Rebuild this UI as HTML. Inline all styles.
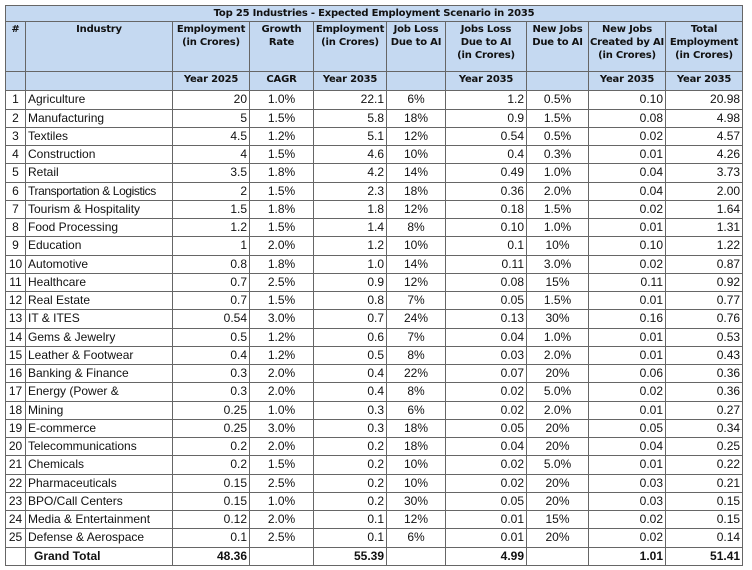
<!DOCTYPE html>
<html><head><meta charset="utf-8"><style>
body{margin:0;background:#fff;width:752px;height:570px;overflow:hidden}
table{position:absolute;left:5px;top:5px;width:737px;border-collapse:collapse;table-layout:fixed;font-family:"Liberation Sans",sans-serif;font-size:12px;color:#111}
td{border:1px solid #666;padding:0 2px;height:17.25px;line-height:17px;white-space:nowrap;overflow:hidden}
.h td{background:#c5d9f1;font-family:"DejaVu Sans",sans-serif;font-weight:bold;font-size:10px;text-align:center;vertical-align:top;line-height:13px;padding-top:1px;padding-left:0;padding-right:0;letter-spacing:-0.2px}
.r{text-align:right}.c{text-align:center}
.t td{font-weight:bold}
.n{letter-spacing:-0.4px}
</style></head><body>
<table>
<colgroup><col style="width:20px"><col style="width:147px"><col style="width:77px"><col style="width:64px"><col style="width:73px"><col style="width:59px"><col style="width:81px"><col style="width:62px"><col style="width:77px"><col style="width:77px"></colgroup>
<tr class="h"><td colspan="10" style="height:14px">Top 25 Industries - Expected Employment Scenario in 2035</td></tr>
<tr class="h"><td style="height:48px">#</td><td>Industry</td><td>Employment<br>(in Crores)</td><td>Growth<br>Rate</td><td>Employment<br>(in Crores)</td><td>Job Loss<br>Due to AI</td><td>Jobs Loss<br>Due to AI<br>(in Crores)</td><td>New Jobs<br>Due to AI</td><td>New Jobs<br>Created by AI<br>(in Crores)</td><td>Total<br>Employment<br>(in Crores)</td></tr>
<tr class="h"><td style="height:13px"></td><td></td><td>Year 2025</td><td>CAGR</td><td>Year 2035</td><td></td><td>Year 2035</td><td></td><td>Year 2035</td><td>Year 2035</td></tr>
<tr><td class="c">1</td><td>Agriculture</td><td class="r">20</td><td class="c">1.0%</td><td class="r">22.1</td><td class="c">6%</td><td class="r">1.2</td><td class="c">0.5%</td><td class="r">0.10</td><td class="r">20.98</td></tr>
<tr><td class="c">2</td><td>Manufacturing</td><td class="r">5</td><td class="c">1.5%</td><td class="r">5.8</td><td class="c">18%</td><td class="r">0.9</td><td class="c">1.5%</td><td class="r">0.08</td><td class="r">4.98</td></tr>
<tr><td class="c">3</td><td>Textiles</td><td class="r">4.5</td><td class="c">1.2%</td><td class="r">5.1</td><td class="c">12%</td><td class="r">0.54</td><td class="c">0.5%</td><td class="r">0.02</td><td class="r">4.57</td></tr>
<tr><td class="c">4</td><td>Construction</td><td class="r">4</td><td class="c">1.5%</td><td class="r">4.6</td><td class="c">10%</td><td class="r">0.4</td><td class="c">0.3%</td><td class="r">0.01</td><td class="r">4.26</td></tr>
<tr><td class="c">5</td><td>Retail</td><td class="r">3.5</td><td class="c">1.8%</td><td class="r">4.2</td><td class="c">14%</td><td class="r">0.49</td><td class="c">1.0%</td><td class="r">0.04</td><td class="r">3.73</td></tr>
<tr><td class="c">6</td><td class="n">Transportation &amp; Logistics</td><td class="r">2</td><td class="c">1.5%</td><td class="r">2.3</td><td class="c">18%</td><td class="r">0.36</td><td class="c">2.0%</td><td class="r">0.04</td><td class="r">2.00</td></tr>
<tr><td class="c">7</td><td>Tourism &amp; Hospitality</td><td class="r">1.5</td><td class="c">1.8%</td><td class="r">1.8</td><td class="c">12%</td><td class="r">0.18</td><td class="c">1.5%</td><td class="r">0.02</td><td class="r">1.64</td></tr>
<tr><td class="c">8</td><td>Food Processing</td><td class="r">1.2</td><td class="c">1.5%</td><td class="r">1.4</td><td class="c">8%</td><td class="r">0.10</td><td class="c">1.0%</td><td class="r">0.01</td><td class="r">1.31</td></tr>
<tr><td class="c">9</td><td>Education</td><td class="r">1</td><td class="c">2.0%</td><td class="r">1.2</td><td class="c">10%</td><td class="r">0.1</td><td class="c">10%</td><td class="r">0.10</td><td class="r">1.22</td></tr>
<tr><td class="c">10</td><td>Automotive</td><td class="r">0.8</td><td class="c">1.8%</td><td class="r">1.0</td><td class="c">14%</td><td class="r">0.11</td><td class="c">3.0%</td><td class="r">0.02</td><td class="r">0.87</td></tr>
<tr><td class="c">11</td><td>Healthcare</td><td class="r">0.7</td><td class="c">2.5%</td><td class="r">0.9</td><td class="c">12%</td><td class="r">0.08</td><td class="c">15%</td><td class="r">0.11</td><td class="r">0.92</td></tr>
<tr><td class="c">12</td><td>Real Estate</td><td class="r">0.7</td><td class="c">1.5%</td><td class="r">0.8</td><td class="c">7%</td><td class="r">0.05</td><td class="c">1.5%</td><td class="r">0.01</td><td class="r">0.77</td></tr>
<tr><td class="c">13</td><td>IT &amp; ITES</td><td class="r">0.54</td><td class="c">3.0%</td><td class="r">0.7</td><td class="c">24%</td><td class="r">0.13</td><td class="c">30%</td><td class="r">0.16</td><td class="r">0.76</td></tr>
<tr><td class="c">14</td><td>Gems &amp; Jewelry</td><td class="r">0.5</td><td class="c">1.2%</td><td class="r">0.6</td><td class="c">7%</td><td class="r">0.04</td><td class="c">1.0%</td><td class="r">0.01</td><td class="r">0.53</td></tr>
<tr><td class="c">15</td><td>Leather &amp; Footwear</td><td class="r">0.4</td><td class="c">1.2%</td><td class="r">0.5</td><td class="c">8%</td><td class="r">0.03</td><td class="c">2.0%</td><td class="r">0.01</td><td class="r">0.43</td></tr>
<tr><td class="c">16</td><td>Banking &amp; Finance</td><td class="r">0.3</td><td class="c">2.0%</td><td class="r">0.4</td><td class="c">22%</td><td class="r">0.07</td><td class="c">20%</td><td class="r">0.06</td><td class="r">0.36</td></tr>
<tr><td class="c">17</td><td>Energy (Power &amp;</td><td class="r">0.3</td><td class="c">2.0%</td><td class="r">0.4</td><td class="c">8%</td><td class="r">0.02</td><td class="c">5.0%</td><td class="r">0.02</td><td class="r">0.36</td></tr>
<tr><td class="c">18</td><td>Mining</td><td class="r">0.25</td><td class="c">1.0%</td><td class="r">0.3</td><td class="c">6%</td><td class="r">0.02</td><td class="c">2.0%</td><td class="r">0.01</td><td class="r">0.27</td></tr>
<tr><td class="c">19</td><td>E-commerce</td><td class="r">0.25</td><td class="c">3.0%</td><td class="r">0.3</td><td class="c">18%</td><td class="r">0.05</td><td class="c">20%</td><td class="r">0.05</td><td class="r">0.34</td></tr>
<tr><td class="c">20</td><td>Telecommunications</td><td class="r">0.2</td><td class="c">2.0%</td><td class="r">0.2</td><td class="c">18%</td><td class="r">0.04</td><td class="c">20%</td><td class="r">0.04</td><td class="r">0.25</td></tr>
<tr><td class="c">21</td><td>Chemicals</td><td class="r">0.2</td><td class="c">1.5%</td><td class="r">0.2</td><td class="c">10%</td><td class="r">0.02</td><td class="c">5.0%</td><td class="r">0.01</td><td class="r">0.22</td></tr>
<tr><td class="c">22</td><td>Pharmaceuticals</td><td class="r">0.15</td><td class="c">2.5%</td><td class="r">0.2</td><td class="c">10%</td><td class="r">0.02</td><td class="c">20%</td><td class="r">0.03</td><td class="r">0.21</td></tr>
<tr><td class="c">23</td><td>BPO/Call Centers</td><td class="r">0.15</td><td class="c">1.0%</td><td class="r">0.2</td><td class="c">30%</td><td class="r">0.05</td><td class="c">20%</td><td class="r">0.03</td><td class="r">0.15</td></tr>
<tr><td class="c">24</td><td>Media &amp; Entertainment</td><td class="r">0.12</td><td class="c">2.0%</td><td class="r">0.1</td><td class="c">12%</td><td class="r">0.01</td><td class="c">15%</td><td class="r">0.02</td><td class="r">0.15</td></tr>
<tr><td class="c">25</td><td>Defense &amp; Aerospace</td><td class="r">0.1</td><td class="c">2.5%</td><td class="r">0.1</td><td class="c">6%</td><td class="r">0.01</td><td class="c">20%</td><td class="r">0.02</td><td class="r">0.14</td></tr>
<tr class="t"><td></td><td style="padding-left:8px">Grand Total</td><td class="r">48.36</td><td></td><td class="r">55.39</td><td></td><td class="r">4.99</td><td></td><td class="r">1.01</td><td class="r">51.41</td></tr>
</table>
</body></html>
